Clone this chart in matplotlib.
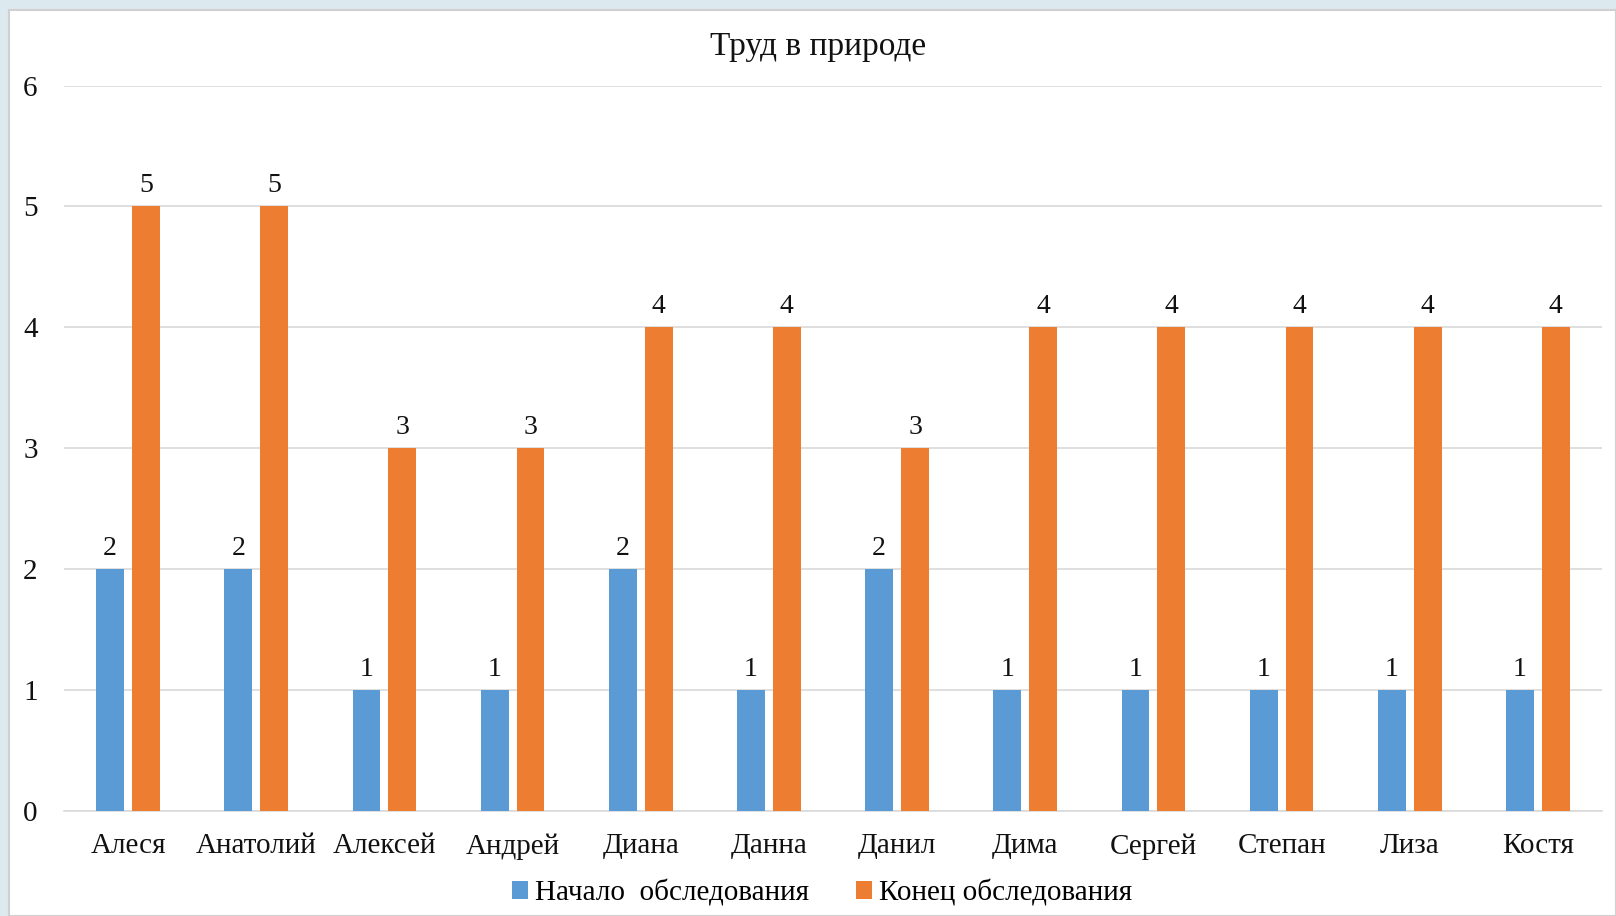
import numpy as np
import matplotlib.pyplot as plt
from matplotlib.patches import Rectangle

names = ["Алеся", "Анатолий", "Алексей", "Андрей", "Диана", "Данна",
         "Данил", "Дима", "Сергей", "Степан", "Лиза", "Костя"]
start = [2, 2, 1, 1, 2, 1, 2, 1, 1, 1, 1, 1]
end = [5, 5, 3, 3, 4, 4, 3, 4, 4, 4, 4, 4]
series_names = ["Начало  обследования", "Конец обследования"]

BLUE = "#5b9bd5"
ORANGE = "#ed7d31"

plt.rcParams["font.family"] = ["Liberation Serif", "DejaVu Serif"]

fig = plt.figure(figsize=(16.16, 9.16), dpi=100)
fig.patch.set_facecolor("#dce9ef")
# white chart area with a faint border, like the slide frame
fig.patches.append(Rectangle((9 / 1616, 0), 1 - 9 / 1616, 1 - 10 / 916,
                             transform=fig.transFigure, facecolor="white",
                             edgecolor="#d0d0d0", linewidth=1.5, zorder=-10))

ax = fig.add_axes([64 / 1616, 1 - 811 / 916, 1538 / 1616, (811 - 85.5) / 916])
ax.set_facecolor("none")

x = np.arange(len(names))
w = 0.217
off = 0.14
b1 = ax.bar(x - off, start, w, color=BLUE, label=series_names[0], zorder=3)
b2 = ax.bar(x + off, end, w, color=ORANGE, label=series_names[1], zorder=3)

for bars in (b1, b2):
    for r in bars:
        ax.annotate(f"{int(r.get_height())}",
                    (r.get_x() + r.get_width() / 2, r.get_height()),
                    xytext=(0, 6), textcoords="offset points",
                    ha="center", va="bottom", fontsize=20, color="#111111")

ax.set_xlim(-0.5, len(names) - 0.5)
ax.set_ylim(0, 6)
ax.set_yticks(range(7))
ax.set_xticks(x)
ax.set_xticklabels(names)
ax.tick_params(axis="both", length=0, labelsize=21, colors="#111111")
ax.tick_params(axis="y", pad=19)
ax.tick_params(axis="x", pad=16)
ax.grid(axis="y", color="#d9d9d9", linewidth=1.2, zorder=0)
for s in ("top", "right", "left"):
    ax.spines[s].set_visible(False)
ax.spines["bottom"].set_color("#d9d9d9")
ax.spines["bottom"].set_linewidth(1.2)

fig.text(0.506, 1 - 47 / 916, "Труд в природе", ha="center", va="center",
         fontsize=24, color="#111111")

fig.legend(loc="center", bbox_to_anchor=(0.5085, 1 - 893 / 916), ncol=2,
           frameon=False, fontsize=21, handlelength=0.55, handleheight=0.55,
           handletextpad=0.25, columnspacing=1.6)

fig.savefig("out.png", dpi=100)
